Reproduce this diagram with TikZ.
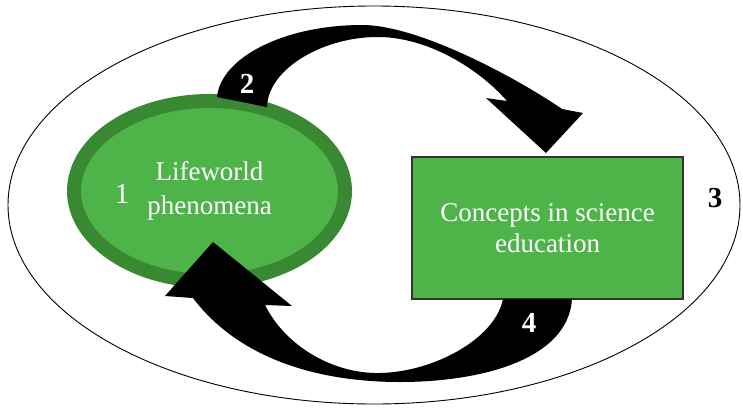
\documentclass[tikz,border=0pt]{standalone}
\usepackage{fontspec}
\setmainfont{Liberation Serif}
\usetikzlibrary{shapes.geometric}
\definecolor{leafgreen}{RGB}{78,180,73}
\definecolor{leafdark}{RGB}{57,137,51}
\definecolor{boxedge}{RGB}{50,50,50}
\begin{document}
\begin{tikzpicture}[x=1pt,y=-1pt,
  labeltext/.style={text=white,font=\fontsize{27}{34}\selectfont,align=center,inner sep=0pt},
  stepnum/.style={font=\fontsize{29}{29}\selectfont\bfseries,inner sep=0pt,anchor=base},
  bigarrow/.style={fill=black}]
\useasboundingbox (0,0) rectangle (743,407);

% surrounding ellipse
\node[ellipse,draw=black,line width=0.9pt,minimum width=732pt,minimum height=398pt,inner sep=0pt] (world) at (374,205) {};

% lifeworld ellipse with its dark rim
\node[ellipse,fill=leafgreen,draw=leafdark,line width=14pt,minimum width=271pt,minimum height=180pt,inner sep=0pt] (life) at (209.5,191) {};

% concepts box
\node[rectangle,fill=leafgreen,draw=boxedge,line width=1.2pt,minimum width=271pt,minimum height=142pt,inner sep=0pt] (concepts) at (547.5,228) {};

% upper curved arrow: lifeworld -> concepts
\coordinate (ua1) at (217,97);   % tail, outer corner
\coordinate (ua2) at (267,107);  % tail, inner corner
\coordinate (utop) at (362,25);  % crest of the outer edge
\coordinate (uin) at (380,37);   % crest of the inner edge
\coordinate (uso) at (562,109);  % shaft end, outer side
\coordinate (usi) at (507,101);  % shaft end, inner side
\coordinate (ubo) at (583,113);  % barb, outer side
\coordinate (ubi) at (486,98);   % barb, inner side
\coordinate (utip) at (546,153); % point
\fill[bigarrow] (ua1) .. controls (221,57) and (285,25) .. (utop)
  .. controls (420,25) and (520,80) .. (uso)
  -- (ubo) -- (utip) -- (ubi) -- (usi)
  .. controls (480,70) and (430,38) .. (uin)
  .. controls (325,36) and (268,68) .. (ua2)
  -- cycle;

% lower curved arrow: concepts -> lifeworld
\coordinate (la1) at (572,299);  % tail, outer corner
\coordinate (la2) at (503,299);  % tail, inner corner
\coordinate (lbot) at (400,382); % lowest point of the outer edge
\coordinate (lin) at (375,373);  % lowest point of the inner edge
\coordinate (lso) at (193,298);  % shaft end, outer side
\coordinate (lsi) at (265,305);  % shaft end, inner side
\coordinate (lbo) at (165,296);  % barb, outer side
\coordinate (lbi) at (292,306);  % barb, inner side
\coordinate (ltip) at (213,242); % point
\fill[bigarrow] (la1) .. controls (568,360) and (480,382) .. (lbot)
  .. controls (320,382) and (240,360) .. (lso)
  -- (lbo) -- (ltip) -- (lbi) -- (lsi)
  .. controls (285,345) and (330,372) .. (lin)
  .. controls (430,374) and (495,340) .. (la2)
  -- cycle;

% labels
\node[labeltext] (lifetext) at (life) {Lifeworld\\phenomena};
\node[labeltext,font=\fontsize{27}{31}\selectfont] (conceptstext) at (concepts) {Concepts in science\\education};

% step numbers
\node[stepnum,font=\fontsize{29}{29}\selectfont,text=white] (n1) at (122,203) {1};
\node[stepnum,text=white] (n2) at (247,93) {2};
\node[stepnum] (n3) at (715,207) {3};
\node[stepnum,text=white] (n4) at (529,332) {4};
\end{tikzpicture}
\end{document}
